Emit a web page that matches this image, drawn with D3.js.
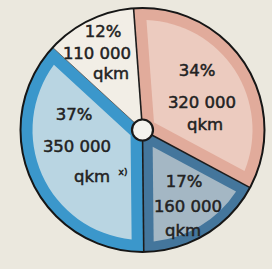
<!DOCTYPE html>
<html><head><meta charset="utf-8">
<script src="https://cdn.jsdelivr.net/npm/d3@7"></script>
<style>html,body{margin:0;padding:0;background:#ebe8de;}svg{display:block;}</style>
</head><body>
<svg id="c" width="272" height="269"></svg>
<script>
const categories = ["A", "B", "C", "D"];
const shares = [34, 17, 37, 12];
const percentLabels = ["34%", "17%", "37%", "12%"];
const areaLabels = ["320 000", "160 000", "350 000", "110 000"];
const unitLabels = ["qkm", "qkm", "qkm", "qkm"];
const bandColors = ["#e1ab9b", "#44769c", "#3b97cb", "#f2eee6"];
const innerColors = ["#eccbbf", "#a4b7c4", "#b9d5e2", "#f2eee6"];

const svg = d3.select("#c");
const cx = 142.5, cy = 130, R = 122, band = 12;
const g = svg.append("g").attr("transform", `translate(${cx},${cy})`);

const start = -4.2 * Math.PI / 180;
const pie = d3.pie().sort(null).value(d => d.v).startAngle(start).endAngle(start + 2 * Math.PI);
const data = categories.map((c, i) => ({c, v: shares[i], i}));
const arcs = pie(data);
const arc = d3.arc().innerRadius(0).outerRadius(R);

g.selectAll("path.band").data(arcs).join("path")
  .attr("class", "band").attr("d", arc).attr("fill", d => bandColors[d.data.i]);

// inset region of each sector (parallel offset of the edges)
function inset(d, w) {
  const a0 = d.startAngle, a1 = d.endAngle, half = (a1 - a0) / 2, mid = a0 + half;
  const ri = R - w;
  const apexDist = w / Math.sin(half);
  const delta = Math.asin(w / ri);
  const p = d3.path();
  const px = a => Math.sin(a), py = a => -Math.cos(a);
  p.moveTo(apexDist * px(mid), apexDist * py(mid));
  p.lineTo(ri * px(a0 + delta), ri * py(a0 + delta));
  p.arc(0, 0, ri, a0 + delta - Math.PI / 2, a1 - delta - Math.PI / 2, false);
  p.closePath();
  return p.toString();
}
g.selectAll("path.inner").data(arcs).join("path")
  .attr("class", "inner").attr("d", d => inset(d, d.data.i === 1 ? 10 : band))
  .attr("fill", d => innerColors[d.data.i]);

// radii lines
g.selectAll("line.rad").data(arcs).join("line")
  .attr("class", "rad")
  .attr("x1", 0).attr("y1", 0)
  .attr("x2", d => R * Math.sin(d.startAngle)).attr("y2", d => -R * Math.cos(d.startAngle))
  .attr("stroke", "#1c1c1c").attr("stroke-width", d => d.data.i === 3 ? 0.6 : 1.6);

g.append("circle").attr("r", R).attr("fill", "none").attr("stroke", "#161616").attr("stroke-width", 2);
g.append("circle").attr("r", 10.5).attr("fill", "#f4f3ee").attr("stroke", "#1a1a1a").attr("stroke-width", 2.2);

// labels: [x, y] positions of the three rows for each slice
const labelPos = [
  [[197, 76], [202, 108], [205, 130]],
  [[184, 187], [188, 212], [183, 236]],
  [[74, 120], [77, 152], [92, 182]],
  [[103, 37], [97, 59], [111, 79]]
];
const txt = svg.append("g").attr("font-family", "'DejaVu Sans', sans-serif")
  .attr("font-weight", "normal").attr("fill", "#222").attr("stroke", "#222")
  .attr("stroke-width", 0.5).attr("text-anchor", "middle");
data.forEach((d, i) => {
  const rows = [percentLabels[i], areaLabels[i], unitLabels[i]];
  rows.forEach((t, k) => {
    txt.append("text").attr("x", labelPos[i][k][0]).attr("y", labelPos[i][k][1])
      .attr("font-size", 16.5).text(t);
  });
});
txt.append("text").attr("x", 123).attr("y", 175).attr("font-size", 9).text("x)");
</script>
</body></html>
